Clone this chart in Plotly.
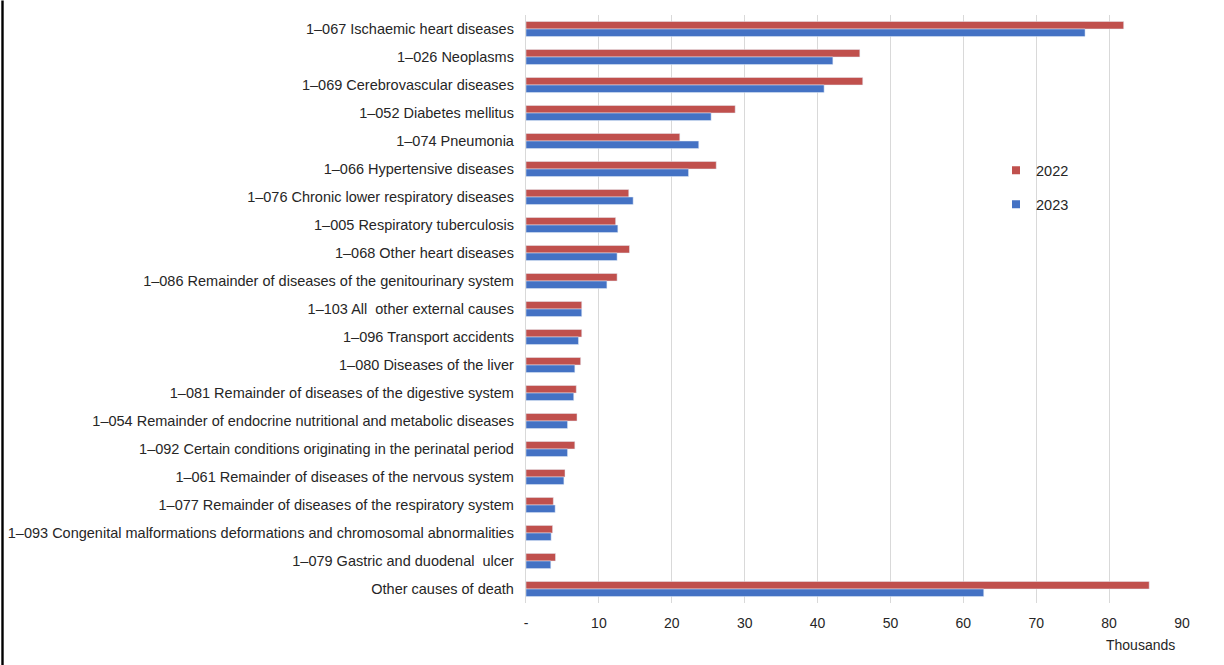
import plotly.graph_objects as go

categories = [
    "1–067 Ischaemic heart diseases",
    "1–026 Neoplasms",
    "1–069 Cerebrovascular diseases",
    "1–052 Diabetes mellitus",
    "1–074 Pneumonia",
    "1–066 Hypertensive diseases",
    "1–076 Chronic lower respiratory diseases",
    "1–005 Respiratory tuberculosis",
    "1–068 Other heart diseases",
    "1–086 Remainder of diseases of the genitourinary system",
    "1–103 All  other external causes",
    "1–096 Transport accidents",
    "1–080 Diseases of the liver",
    "1–081 Remainder of diseases of the digestive system",
    "1–054 Remainder of endocrine nutritional and metabolic diseases",
    "1–092 Certain conditions originating in the perinatal period",
    "1–061 Remainder of diseases of the nervous system",
    "1–077 Remainder of diseases of the respiratory system",
    "1–093 Congenital malformations deformations and chromosomal abnormalities",
    "1–079 Gastric and duodenal  ulcer",
    "Other causes of death",
]

values_2022 = [82.0, 45.8, 46.2, 28.7, 21.1, 26.1, 14.1, 12.3, 14.2, 12.5, 7.65, 7.65,
               7.5, 6.9, 7.0, 6.7, 5.35, 3.75, 3.65, 4.05, 85.5]
values_2023 = [76.7, 42.1, 40.9, 25.4, 23.7, 22.3, 14.7, 12.6, 12.5, 11.1, 7.65, 7.2,
               6.7, 6.55, 5.7, 5.7, 5.2, 4.0, 3.45, 3.4, 62.8]

tick_vals = [0, 10, 20, 30, 40, 50, 60, 70, 80, 90]
tick_text = ["-", "10", "20", "30", "40", "50", "60", "70", "80", "90"]

FONT = "Liberation Sans, Arial, sans-serif"
RED = "#C0504D"
BLUE = "#4472C4"

fig = go.Figure()
fig.add_trace(go.Bar(y=categories, x=values_2022, name="2022", orientation="h",
                     marker=dict(color=RED), showlegend=False))
fig.add_trace(go.Bar(y=categories, x=values_2023, name="2023", orientation="h",
                     marker=dict(color=BLUE), showlegend=False))
# legend proxies (small square markers, as in the reference)
fig.add_trace(go.Scatter(x=[None], y=[None], mode="markers", name="2022",
                         marker=dict(color=RED, symbol="square", size=8),
                         legendgroup="a"))
fig.add_trace(go.Scatter(x=[None], y=[None], mode="markers", name="2023",
                         marker=dict(color=BLUE, symbol="square", size=8),
                         legendgroup="b"))

W, H = 1224, 665
PL, PR, PT, PB = 526, 1182, 14.5, 603  # plot area in page px
L, R, T, B = PL, W - PR, PT, H - PB
pw = PR - PL
ph = PB - PT


def px_x(x):
    return (x - PL) / pw


def px_y(y):
    return 1 - (y - PT) / ph


fig.update_layout(
    width=W, height=H,
    margin=dict(l=L, r=R, t=T, b=B, autoexpand=False),
    paper_bgcolor="white", plot_bgcolor="white",
    barmode="group", bargap=0.46, bargroupgap=0,
    font=dict(family=FONT, size=14.5, color="#262626"),
    showlegend=True,
    legend=dict(x=px_x(996), y=px_y(154), xanchor="left", yanchor="top",
                traceorder="grouped", tracegroupgap=12, bgcolor="rgba(0,0,0,0)",
                font=dict(size=14.5, family=FONT, color="#262626"),
                itemwidth=30),
    xaxis=dict(range=[0, 90], tickvals=tick_vals, ticktext=tick_text,
               showgrid=True, gridcolor="#D9D9D9", gridwidth=1.3,
               zeroline=False, showline=False, ticks="", automargin=False,
               tickfont=dict(size=14), ticklabelstandoff=10),
    yaxis=dict(autorange="reversed", showline=True, linecolor="#D9D9D9", linewidth=1.3,
               ticks="", ticklabelstandoff=8, automargin=False,
               tickfont=dict(size=14.5)),
    annotations=[dict(text="Thousands", xref="paper", yref="paper",
                      x=px_x(1140), y=px_y(645),
                      xanchor="center", yanchor="middle", showarrow=False,
                      font=dict(size=14, family=FONT, color="#262626"))],
    shapes=[dict(type="line", xref="paper", yref="paper",
                 x0=px_x(2.5), x1=px_x(2.5),
                 y0=px_y(H), y1=px_y(0),
                 line=dict(color="#000000", width=2.4))],
)

fig.write_html("out.html", config={"displayModeBar": False},
               post_script="document.body.style.margin='0px';")
